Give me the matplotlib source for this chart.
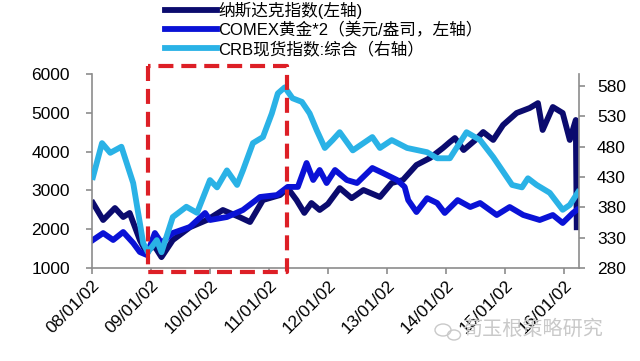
import matplotlib
matplotlib.use("Agg")
import matplotlib.pyplot as plt
from matplotlib.patches import Ellipse
import numpy as np
import datetime



# data
nasdaq_dates = ["2008-01-08", "2008-03-11", "2008-05-23", "2008-07-13", "2008-08-22",
                "2008-10-24", "2008-11-25", "2009-01-25", "2009-03-07", "2009-05-16",
                "2009-08-30", "2009-12-13", "2010-03-22", "2010-07-02", "2010-09-06",
                "2010-11-25", "2011-03-11", "2011-04-27", "2011-06-21", "2011-08-08",
                "2011-09-21", "2011-11-11", "2012-01-01", "2012-03-14", "2012-05-27",
                "2012-08-08", "2012-11-18", "2013-01-30", "2013-04-09", "2013-07-02",
                "2013-09-24", "2013-12-13", "2014-01-25", "2014-02-25", "2014-04-20",
                "2014-07-02", "2014-08-19", "2014-10-20", "2014-12-20", "2015-03-14",
                "2015-06-03", "2015-07-24", "2015-08-22", "2015-10-24", "2015-12-24",
                "2016-02-06", "2016-03-14", "2016-03-20"]
nasdaq = [2675, 2237, 2546, 2314, 2418,
          1722, 1464, 1550, 1280, 1720,
          2050, 2237, 2495, 2314, 2185,
          2752, 2880, 3060, 2750, 2420,
          2675, 2495, 2650, 3060, 2800,
          3010, 2830, 3190, 3268, 3655,
          3835, 4093, 4247, 4350, 4040,
          4300, 4505, 4300, 4685, 4995,
          5124, 5250, 4557, 5150, 4995,
          4300, 4815, 2050]

gold_dates = ["2008-01-08", "2008-03-11", "2008-05-12", "2008-07-13", "2008-09-13",
              "2008-10-24", "2008-12-06", "2009-01-25", "2009-03-07", "2009-05-16",
              "2009-08-30", "2009-12-02", "2010-01-01", "2010-04-16", "2010-07-24",
              "2010-11-07", "2011-02-20", "2011-04-27", "2011-06-29", "2011-08-22",
              "2011-10-02", "2011-11-11", "2011-12-24", "2012-02-14", "2012-04-27",
              "2012-06-29", "2012-10-02", "2012-12-06", "2013-03-04", "2013-04-20",
              "2013-05-12", "2013-07-02", "2013-09-06", "2013-11-07", "2013-12-24",
              "2014-03-14", "2014-05-31", "2014-07-31", "2014-11-11", "2015-01-30",
              "2015-04-24", "2015-08-04", "2015-10-24", "2015-12-24", "2016-02-25",
              "2016-03-20"]
gold_x2 = [1722, 1900, 1722, 1928, 1644,
           1412, 1335, 1902, 1644, 1902,
           2057, 2418, 2237, 2314, 2495,
           2830, 2880, 3090, 3090, 3706,
           3268, 3526, 3190, 3526, 3268,
           3190, 3577, 3448, 3268, 3090,
           2750, 2443, 2800, 2675, 2418,
           2750, 2572, 2675, 2366, 2572,
           2366, 2237, 2366, 2160, 2418,
           2495]

crb_dates = ["2008-01-08", "2008-01-23", "2008-03-04", "2008-04-24", "2008-07-02",
             "2008-09-13", "2008-11-14", "2008-12-13", "2009-02-06", "2009-03-07",
             "2009-05-16", "2009-08-08", "2009-10-13", "2010-01-01", "2010-02-14",
             "2010-04-16", "2010-06-18", "2010-07-24", "2010-09-24", "2010-11-25",
             "2011-01-19", "2011-02-25", "2011-04-09", "2011-05-27", "2011-07-24",
             "2011-09-10", "2011-10-24", "2011-12-13", "2012-01-30", "2012-03-14",
             "2012-06-03", "2012-10-02", "2012-11-18", "2013-01-30", "2013-05-05",
             "2013-09-06", "2013-11-07", "2014-01-25", "2014-05-08", "2014-07-31",
             "2014-10-20", "2015-02-14", "2015-04-16", "2015-05-23", "2015-07-16",
             "2015-10-05", "2015-12-24", "2016-02-06", "2016-03-28"]
crb = [430, 445, 486, 470, 480,
       420, 321, 306, 326, 306,
       364, 381, 371, 425, 413,
       441, 417, 441, 486, 496,
       535, 568, 578, 560, 554,
       535, 507, 478, 491, 504,
       474, 496, 478, 491, 478,
       471, 461, 461, 504, 491,
       463, 417, 413, 428, 417,
       404, 376, 384, 405]

labels = ["纳斯达克指数(左轴)", "COMEX黄金*2（美元/盎司，左轴）", "CRB现货指数:综合（右轴）"]
year_ticks = ["2008-01-02", "2009-01-02", "2010-01-02", "2011-01-02", "2012-01-02",
              "2013-01-02", "2014-01-02", "2015-01-02", "2016-01-02"]

# highlighted window (red dashed box), right-axis units
box_start, box_end = "2008-12-15", "2011-04-22"
box_bottom, box_top = 273, 613


def to_dt(lst):
    return [datetime.datetime.strptime(s, "%Y-%m-%d") for s in lst]


plt.rcParams["font.family"] = ["Liberation Sans", "Noto Sans CJK SC", "DejaVu Sans"]

fig = plt.figure(figsize=(6.4, 3.61), dpi=100)
ax = fig.add_axes([92/640, 1-268/361, (579-92)/640, (268-74)/361])
ax2 = ax.twinx()

c_nas = "#0B0B6E"
c_gold = "#0A12D6"
c_crb = "#2AB2E6"
lw = 4.2

l1, = ax.plot(to_dt(nasdaq_dates), nasdaq, color=c_nas, lw=lw, solid_joinstyle="round")
l2, = ax.plot(to_dt(gold_dates), gold_x2, color=c_gold, lw=lw, solid_joinstyle="round")
l3, = ax2.plot(to_dt(crb_dates), crb, color=c_crb, lw=lw, solid_joinstyle="round")

ax.set_xlim(datetime.datetime(2008, 1, 2), datetime.datetime(2016, 4, 3))
ax.set_ylim(1000, 6000)
ax.set_yticks(np.arange(1000, 6001, 1000))
ax2.set_ylim(280, 600)
ax2.set_yticks(np.arange(280, 581, 50))

ticks = to_dt(year_ticks)
ax.set_xticks(ticks)
ax.set_xticklabels([t.strftime("%y/%m/%d") for t in ticks], rotation=45,
                   ha="right", rotation_mode="anchor")

spine_c = "#8C8C8C"
for a in (ax, ax2):
    a.spines["top"].set_visible(False)
    for s in ("left", "right", "bottom"):
        a.spines[s].set_color(spine_c)
        a.spines[s].set_linewidth(1.2)
    a.tick_params(colors=spine_c, labelcolor="black", labelsize=12.5, length=4, width=1.2)
ax.spines["right"].set_visible(False)
ax2.spines["left"].set_visible(False)
ax2.spines["bottom"].set_visible(False)
ax.tick_params(axis="y", pad=12)
ax.tick_params(axis="x", pad=3)
ax2.tick_params(axis="y", pad=9)

# red dashed box
bx = to_dt([box_start, box_start, box_end, box_end, box_start])
by = [box_top, box_bottom, box_bottom, box_top, box_top]
ax2.plot(bx, by, color="#DD1F26", lw=3, ls=(0, (3.6, 1.9)), clip_on=False, zorder=5)

# legend
leg = fig.legend([l1, l2, l3], labels, loc="upper left", bbox_to_anchor=(165/640, 1-2/361),
                 frameon=False, fontsize=12, handlelength=3.1, handletextpad=0.1,
                 labelspacing=0.17, borderpad=0, borderaxespad=0)
for h in leg.legend_handles:
    h.set_linewidth(4.2)

# watermark
fig.text(463/640, 1-329/361, "荀玉根策略研究", color="#C9C9C9", fontsize=14.5,
         va="center", ha="left")
fig.patches.append(Ellipse((443/640, 1-330/361), 16/640, 12/361, fill=False,
                           ec="#C9C9C9", lw=1, transform=fig.transFigure))
fig.patches.append(Ellipse((454/640, 1-335/361), 13/640, 10/361, fill=False,
                           ec="#C9C9C9", lw=1, transform=fig.transFigure))

fig.savefig("out.png", dpi=100)
